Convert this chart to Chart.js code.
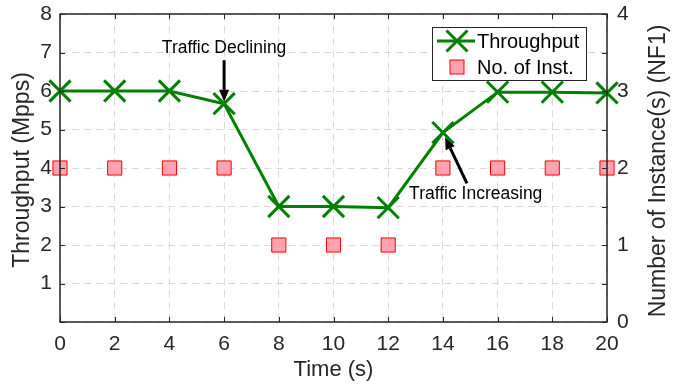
<!DOCTYPE html>
<html><head><meta charset="utf-8">
<script src="https://cdn.jsdelivr.net/npm/chart.js@4.4.0/dist/chart.umd.min.js"></script>
<style>html,body{margin:0;padding:0;background:#fff}#wrap{width:683px;height:387px}</style>
</head><body><div id="wrap"><canvas id="c" width="683" height="387"></canvas></div>
<script>
const timeValues = [0, 2, 4, 6, 8, 10, 12, 14, 16, 18, 20];
const throughput = [6.0, 6.0, 6.0, 5.67, 3.0, 3.0, 2.97, 4.92, 5.97, 5.97, 5.95];
const instances = [2, 2, 2, 2, 1, 1, 1, 2, 2, 2, 2];
const xTicks = [0, 2, 4, 6, 8, 10, 12, 14, 16, 18, 20];
const leftTicks = [1, 2, 3, 4, 5, 6, 7, 8];
const rightTicks = [0, 1, 2, 3, 4];
const annotations = [
  {text: 'Traffic Declining', tx: 6, ty: 7.12, ax0: 6, ay0: 6.8, ax1: 6, ay1: 5.72},
  {text: 'Traffic Increasing', tx: 15.2, ty: 3.33, ax0: 14.88, ay0: 3.6, ax1: 14.08, ay1: 4.8}
];
const legendItems = ['Throughput', 'No. of Inst.'];

const GREEN = '#008000', FONT = '"Liberation Sans", Arial, sans-serif', TXT = '#262626';

const overlay = {
  id: 'overlay',
  afterDraw(chart) {
    const {ctx, chartArea: a, scales} = chart;
    const x = scales.x, yl = scales.y;
    ctx.save();
    ctx.strokeStyle = '#262626'; ctx.lineWidth = 1;
    ctx.beginPath();
    xTicks.forEach(v => { const px = Math.round(x.getPixelForValue(v)) + 0.5; ctx.moveTo(px, a.bottom); ctx.lineTo(px, a.bottom - 5); ctx.moveTo(px, a.top); ctx.lineTo(px, a.top + 5); });
    for (let v = 0; v <= 8; v++) { const py = Math.round(yl.getPixelForValue(v)) + 0.5; ctx.moveTo(a.left, py); ctx.lineTo(a.left + 5, py); ctx.moveTo(a.right, py); ctx.lineTo(a.right - 5, py); }
    ctx.stroke();
    ctx.strokeStyle = '#262626'; ctx.lineWidth = 1.5;
    ctx.strokeRect(a.left, a.top, a.right - a.left, a.bottom - a.top);
    ctx.fillStyle = TXT; ctx.textAlign = 'center'; ctx.textBaseline = 'middle';
    ctx.font = '22px ' + FONT;
    ctx.fillText('Time (s)', (a.left + a.right) / 2, 370);
    ctx.font = '23px ' + FONT;
    ctx.save(); ctx.translate(23, 170); ctx.rotate(-Math.PI / 2); ctx.fillText('Throughput (Mpps)', 0, 0); ctx.restore();
    ctx.save(); ctx.translate(659, 171); ctx.rotate(-Math.PI / 2); ctx.fillText('Number of Instance(s) (NF1)', 0, 0); ctx.restore();
    ctx.fillStyle = '#000'; ctx.font = '17.5px ' + FONT;
    annotations.forEach(an => {
      ctx.fillText(an.text, x.getPixelForValue(an.tx), yl.getPixelForValue(an.ty));
      const x0 = x.getPixelForValue(an.ax0), y0 = yl.getPixelForValue(an.ay0);
      const x1 = x.getPixelForValue(an.ax1), y1 = yl.getPixelForValue(an.ay1);
      const ang = Math.atan2(y1 - y0, x1 - x0);
      const hl = 12, hw = 5;
      const bx = x1 - hl * Math.cos(ang), by = y1 - hl * Math.sin(ang);
      ctx.strokeStyle = '#000'; ctx.lineWidth = 3;
      ctx.beginPath(); ctx.moveTo(x0, y0); ctx.lineTo(bx, by); ctx.stroke();
      ctx.beginPath(); ctx.moveTo(x1, y1);
      ctx.lineTo(bx + hw * Math.sin(ang), by - hw * Math.cos(ang));
      ctx.lineTo(bx - hw * Math.sin(ang), by + hw * Math.cos(ang));
      ctx.closePath(); ctx.fill();
    });
    const lx = 432, ly = 27, lw = 154, lh = 53;
    ctx.fillStyle = '#fff'; ctx.fillRect(lx, ly, lw, lh);
    ctx.strokeStyle = '#262626'; ctx.lineWidth = 1; ctx.strokeRect(lx + 0.5, ly + 0.5, lw, lh);
    const r1 = 41, r2 = 67;
    ctx.strokeStyle = GREEN; ctx.lineWidth = 3;
    ctx.beginPath(); ctx.moveTo(437, r1); ctx.lineTo(475, r1); ctx.stroke();
    const d = 10.5;
    ctx.beginPath(); ctx.moveTo(457 - d, r1 - d); ctx.lineTo(457 + d, r1 + d); ctx.moveTo(457 - d, r1 + d); ctx.lineTo(457 + d, r1 - d); ctx.stroke();
    ctx.fillStyle = '#ffa3b1'; ctx.fillRect(450, r2 - 7, 14, 14);
    ctx.strokeStyle = '#ff0000'; ctx.lineWidth = 1; ctx.strokeRect(450, r2 - 7, 14, 14);
    ctx.fillStyle = '#000'; ctx.font = '20px ' + FONT; ctx.textAlign = 'left';
    ctx.fillText(legendItems[0], 477, r1 + 1);
    ctx.fillText(legendItems[1], 477, r2 + 1);
    ctx.restore();
  }
};

new Chart(document.getElementById('c'), {
  type: 'line',
  data: {
    datasets: [
      {label: legendItems[0], data: timeValues.map((t, i) => ({x: t, y: throughput[i]})), yAxisID: 'y',
       borderColor: GREEN, backgroundColor: GREEN, borderWidth: 3, pointStyle: 'crossRot', pointRadius: 15,
       pointBorderWidth: 3, pointBorderColor: GREEN, tension: 0, order: 1, clip: false},
      {label: legendItems[1], data: timeValues.map((t, i) => ({x: t, y: instances[i]})), yAxisID: 'y2',
       showLine: false, pointStyle: 'rect', pointRadius: 10, pointBackgroundColor: '#ffa3b1',
       pointBorderColor: '#ff0000', pointBorderWidth: 1, order: 2, clip: false}
    ]
  },
  options: {
    responsive: false, animation: false,
    layout: {autoPadding: false, padding: {top: 14, left: 0, right: 0, bottom: 0}},
    plugins: {legend: {display: false}, tooltip: {enabled: false}},
    scales: {
      x: {type: 'linear', min: 0, max: 20,
          afterBuildTicks: s => { s.ticks = xTicks.map(v => ({value: v})); },
          afterFit: s => { s.height = 65; },
          grid: {color: '#d9d9d9', lineWidth: 1, drawTicks: false},
          border: {display: false, dash: [7, 5]},
          ticks: {color: TXT, font: {family: FONT, size: 21}, padding: 10, maxRotation: 0}},
      y: {position: 'left', min: 0, max: 8,
          afterBuildTicks: s => { s.ticks = [0].concat(leftTicks).map(v => ({value: v})); },
          afterFit: s => { s.width = 60; },
          grid: {color: '#d9d9d9', lineWidth: 1, drawTicks: false},
          border: {display: false, dash: [7, 5]},
          ticks: {color: TXT, font: {family: FONT, size: 21, lineHeight: 0.55}, padding: 8, callback: v => v === 0 ? '' : String(v)}},
      y2: {position: 'right', min: 0, max: 4,
          afterBuildTicks: s => { s.ticks = rightTicks.map(v => ({value: v})); },
          afterFit: s => { s.width = 76; },
          grid: {display: false, drawTicks: false},
          border: {display: false},
          ticks: {color: TXT, font: {family: FONT, size: 21, lineHeight: 0.35}, padding: 10}}
    }
  },
  plugins: [overlay]
});
</script></body></html>
